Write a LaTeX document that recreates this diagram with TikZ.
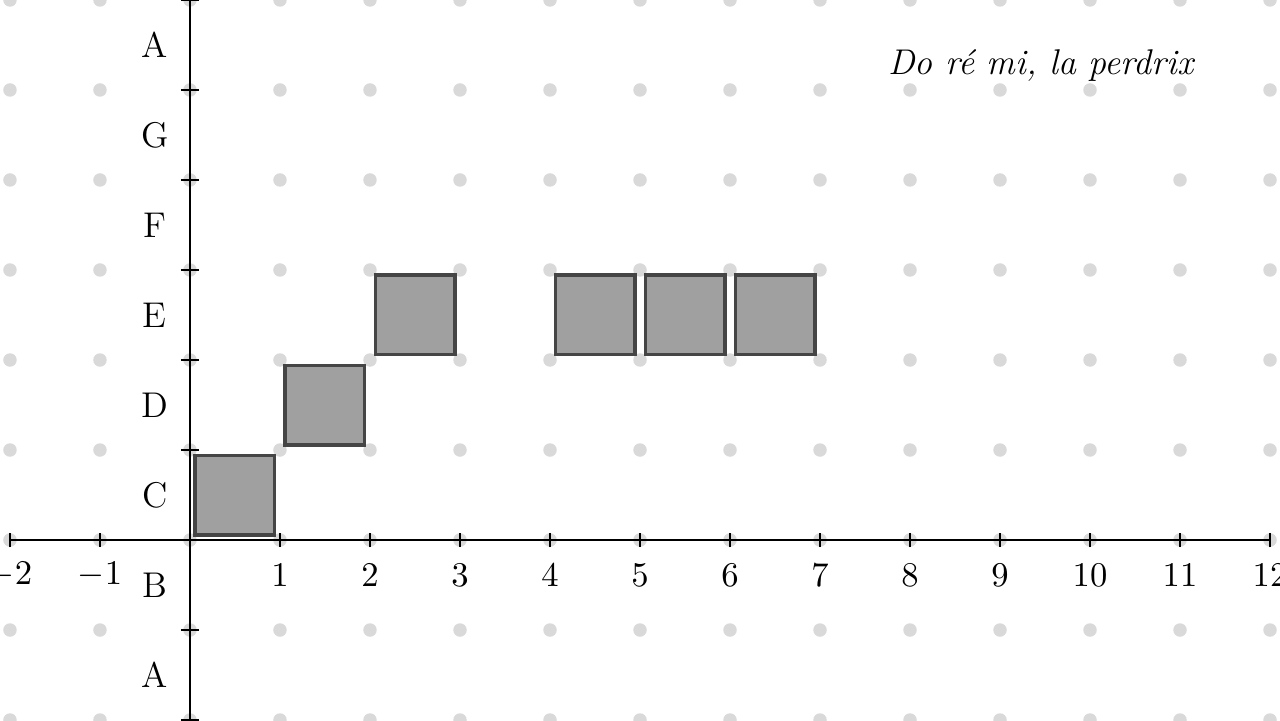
\documentclass[tikz,border=0pt]{standalone}
\usepackage{amsmath,amssymb}
\usepackage{xcolor}
\usepackage{tikz}
\usetikzlibrary{positioning, calc}

\definecolor{blockfill}{HTML}{A0A0A0}
\definecolor{blockline}{HTML}{454545}

\begin{document}
\begin{tikzpicture}[
    every node/.style={font=\fontsize{11.3}{13.5}\selectfont},
    griddot/.style={fill=gray!30, draw=none},
    axis/.style={black, line width=0.6pt},
    tickmark/.style={black, line width=0.6pt},
    block/.style={fill=blockfill, draw=blockline, line width=1.2pt},
    note/.style={font=\fontsize{11.3}{13.5}\selectfont\itshape, anchor=base east}
]
\useasboundingbox (-2.111,-2) rectangle (12.111,6);
% grid of dots
\foreach \x in {-2,...,12}
    \foreach \y in {-2,...,6}
        \fill[griddot] (\x,\y) circle (0.075);
% axes
\draw[axis] (-2,0) coordinate (xmin) -- (12,0) coordinate (xmax);
\draw[axis] (0,-2) coordinate (ymin) -- (0,6) coordinate (ymax);
\foreach \x in {-2,-1,1,2,3,4,5,6,7,8,9,10,11,12} {
    \draw[tickmark] (\x,-0.08) -- (\x,0.08);
    \node (xl\x) at (\x,-0.39) {$\x$};
}
\foreach \y in {-2,-1,1,2,3,4,5,6}
    \draw[tickmark] (-0.1,\y) -- (0.1,\y);
% note names
\foreach \n [count=\i from -2] in {A,B,C,D,E,F,G,A}
    \node (nt\i) at (-0.39,\i+0.5) {\n};
% notes played
\foreach \x/\y in {0/0,1/1,2/2,4/2,5/2,6/2}
    \draw[block] (\x+0.06,\y+0.06) rectangle (\x+0.94,\y+0.94);
\node[note] (title) at (11.27,5.17) {Do ré mi, la perdrix};
\end{tikzpicture}
\end{document}
